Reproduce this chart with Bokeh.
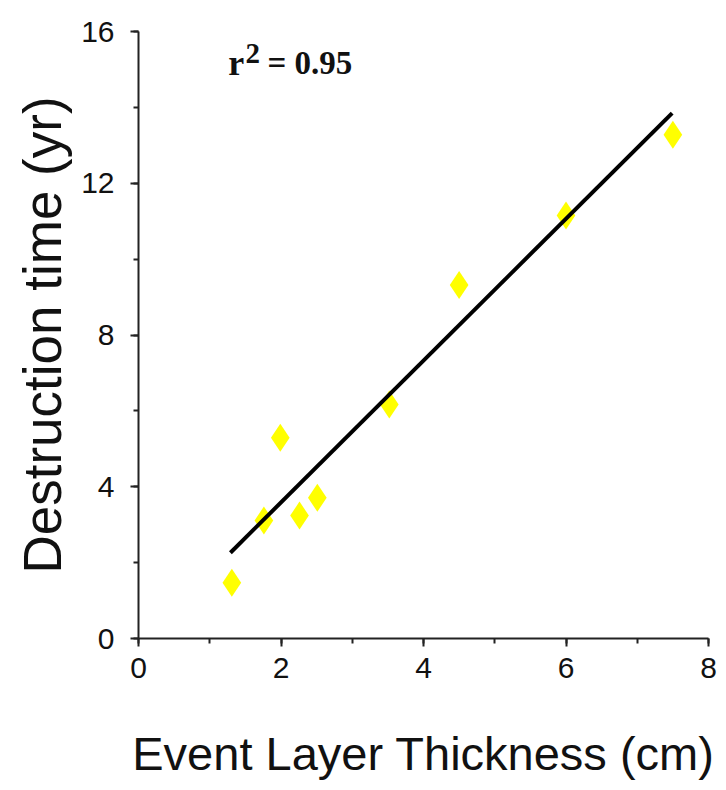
from bokeh.plotting import figure
from bokeh.models import Label, SingleIntervalTicker, Range1d, ColumnDataSource
from bokeh.embed import file_html
from bokeh.resources import INLINE

# Data
thickness_cm = [1.31, 1.76, 1.99, 2.26, 2.51, 3.52, 4.50, 6.00, 7.50]
destruction_yr = [1.47, 3.11, 5.29, 3.24, 3.71, 6.17, 9.32, 11.15, 13.28]
fit_x = [1.29, 7.49]
fit_y = [2.26, 13.85]
r2_text = "0.95"

p = figure(width=718, height=782, output_backend="svg", toolbar_location=None,
           x_range=Range1d(0, 8), y_range=Range1d(0, 16),
           min_border_left=138, min_border_right=10, min_border_top=31, min_border_bottom=139)
p.outline_line_color = None
p.xgrid.visible = False
p.ygrid.visible = False
p.background_fill_color = "white"
p.border_fill_color = "white"

src = ColumnDataSource(dict(x=thickness_cm, y=destruction_yr))
p.scatter("x", "y", source=src, marker="diamond", size=28,
          fill_color="#ffff00", line_color=None)
p.line(fit_x, fit_y, line_color="black", line_width=4)

font = "Liberation Sans"
for ax, interval in ((p.xaxis[0], 2), (p.yaxis[0], 4)):
    ax.ticker = SingleIntervalTicker(interval=interval, num_minor_ticks=2)
    ax.axis_line_color = "#222222"
    ax.axis_line_width = 2
    ax.major_tick_line_color = "#222222"
    ax.major_tick_line_width = 2
    ax.minor_tick_line_color = "#222222"
    ax.minor_tick_line_width = 2
    ax.major_tick_in = 0
    ax.major_tick_out = 8
    ax.minor_tick_in = 0
    ax.minor_tick_out = 5
    ax.major_label_text_font = font
    ax.major_label_text_font_size = "30px"
    ax.major_label_text_color = "#111111"
    ax.axis_label_text_font = font
    ax.axis_label_text_font_style = "normal"
    ax.axis_label_text_color = "#111111"

p.xaxis.major_label_standoff = 11
p.yaxis.major_label_standoff = 16
p.xaxis.axis_label = "Event Layer Thickness (cm)"
p.xaxis.axis_label_text_font_size = "47px"
p.xaxis.axis_label_standoff = 46
p.yaxis.axis_label = "Destruction time (yr)"
p.yaxis.axis_label_text_font_size = "53px"
p.yaxis.axis_label_standoff = 6

serif = "Liberation Serif"
p.add_layout(Label(x=1.26, y=15.16, text="r", text_font=serif, text_font_style="bold",
                   text_font_size="36px", text_baseline="alphabetic", text_color="#111111"))
p.add_layout(Label(x=1.50, y=15.42, text="2", text_font=serif, text_font_style="bold",
                   text_font_size="29px", text_baseline="alphabetic", text_color="#111111"))
p.add_layout(Label(x=1.81, y=15.16, text="= " + r2_text, text_font=serif, text_font_style="bold",
                   text_font_size="33px", text_baseline="alphabetic", text_color="#111111"))

open("out.html", "w").write(file_html(p, INLINE))
